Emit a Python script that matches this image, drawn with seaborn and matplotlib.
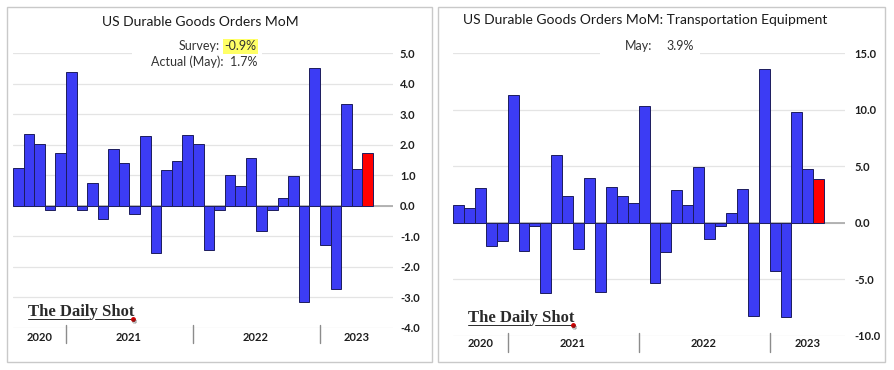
import pandas as pd
import numpy as np
import matplotlib
matplotlib.use("Agg")
import matplotlib.pyplot as plt
import seaborn as sns
from matplotlib.patches import Rectangle
from matplotlib.lines import Line2D
from matplotlib.ticker import FormatStrFormatter

# monthly bars, Aug 2020 .. May 2023
months = [str(p) for p in pd.period_range("2020-08", "2023-05", freq="M")]

durable_mom = [1.25, 2.36, 2.03, -0.14, 1.72, 4.37, -0.14, 0.74, -0.42, 1.87,
               1.40, -0.26, 2.28, -1.54, 1.18, 1.48, 2.33, 2.01, -1.46, -0.15,
               1.00, 0.66, 1.58, -0.82, -0.15, 0.27, 0.96, -3.14, 4.50, -1.28,
               -2.72, 3.32, 1.20, 1.74]

transport_mom = [1.59, 1.35, 3.09, -2.03, -1.59, 11.26, -2.47, -0.29, -6.20, 6.00,
                 2.38, -2.32, 3.97, -6.09, 3.20, 2.38, 1.79, 10.29, -5.32, -2.59,
                 2.88, 1.56, 4.97, -1.44, -0.24, 0.85, 3.00, -8.20, 13.60, -4.24,
                 -8.30, 9.80, 4.76, 3.88]

years = ["2020", "2021", "2022", "2023"]
year_pos = [2.0, 10.45, 22.45, 31.95]
year_breaks = [4.5, 16.5, 28.5]

left_ticks = [-4.0, -3.0, -2.0, -1.0, 0.0, 1.0, 2.0, 3.0, 4.0, 5.0]
right_ticks = [-10.0, -5.0, 0.0, 5.0, 10.0, 15.0]

sns.set_style("white")
plt.rcParams['font.family'] = ['Lato', 'DejaVu Sans']

W, H = 894, 370
BLUE = "#3c3cf4"
RED = "#ff0000"
EDGE = "#1c1c5e"

fig = plt.figure(figsize=(W / 100, H / 100), dpi=100)


def fx(px):
    return px / W


def fy(py):
    return 1 - py / H


def draw_panel(ax, vals, ticks, pad, year_y, sep_lo, sep_hi):
    colors = [BLUE] * (len(vals) - 1) + [RED]
    df = pd.DataFrame({"month": months, "value": vals})
    sns.barplot(data=df, x="month", y="value", hue="month", palette=colors,
                legend=False, width=1.0, edgecolor=EDGE, linewidth=0.7,
                saturation=1, ax=ax, zorder=2)
    ax.set_xlim(-0.5, 35.4)
    ax.set_ylim(ticks[0], ticks[-1])
    ax.set_yticks(ticks)
    ax.yaxis.set_major_formatter(FormatStrFormatter("%.1f"))
    ax.yaxis.tick_right()
    ax.tick_params(axis="y", length=0, pad=pad, labelsize=8, labelcolor="#1e1e1e")
    for lab in ax.get_yticklabels():
        lab.set_fontweight("bold")
    ax.set_xticks([])
    ax.set_xlabel("")
    ax.set_ylabel("")
    ax.grid(axis="y", color="#e4e4e4", linewidth=0.9)
    ax.set_axisbelow(True)
    ax.axhline(0, color="#a8a8a8", linewidth=1.2, zorder=1.5)
    for s in ax.spines.values():
        s.set_visible(False)
    tr = ax.get_xaxis_transform()
    for yr, xp in zip(years, year_pos):
        ax.text(xp, year_y, yr, transform=tr, ha="center", va="center",
                fontsize=8, fontweight="bold", color="#1e1e1e")
    for xb in year_breaks:
        ax.add_line(Line2D([xb, xb], [sep_lo, sep_hi], transform=tr,
                           color="#8c8c8c", linewidth=1.0, clip_on=False))


# left panel
ax1 = fig.add_axes([fx(13), fy(328), fx(380), (328 - 53) / H])
draw_panel(ax1, durable_mom, left_ticks, 5, -0.033, 0.011, -0.055)
ax1.add_patch(Rectangle((0.313, 0.97), 0.342, 0.06, transform=ax1.transAxes,
                        facecolor="white", edgecolor="none", zorder=3, clip_on=False))

# right panel
ax2 = fig.add_axes([fx(453), fy(336), fx(392), (336 - 53) / H])
draw_panel(ax2, transport_mom, right_ticks, 7, -0.028, 0.011, -0.057)
ax2.add_patch(Rectangle((0.375, 0.97), 0.255, 0.06, transform=ax2.transAxes,
                        facecolor="white", edgecolor="none", zorder=3, clip_on=False))

# panel frames
for x0, x1 in [(7, 432), (438, 885)]:
    fig.add_artist(Rectangle((fx(x0), fy(362)), fx(x1 - x0), (362 - 7) / H,
                             transform=fig.transFigure, facecolor="none",
                             edgecolor="#c9c9c9", linewidth=1.0))

# titles and notes
fig.text(fx(200), fy(22), "US Durable Goods Orders MoM", ha="center", va="center",
         fontsize=10, color="#1a1a1a")
fig.text(fx(645), fy(20), "US Durable Goods Orders MoM: Transportation Equipment",
         ha="center", va="center", fontsize=10, color="#1a1a1a")

fig.text(fx(220), fy(46), "Survey:", ha="right", va="center", fontsize=9, color="#333333")
fig.text(fx(224), fy(46), "-0.9%", ha="left", va="center", fontsize=9, color="#333333",
         bbox=dict(boxstyle="square,pad=0.12", facecolor="#ffff66", edgecolor="none"))
fig.text(fx(257), fy(62), "Actual (May):  1.7%", ha="right", va="center",
         fontsize=9, color="#333333")
fig.text(fx(625), fy(46), "May:", ha="left", va="center", fontsize=9, color="#333333")
fig.text(fx(666), fy(46), "3.9%", ha="left", va="center", fontsize=9, color="#333333")


# logos
def logo(x, y):
    fig.text(fx(x), fy(y), "The Daily Shot", ha="left", va="baseline",
             family="Liberation Serif", fontweight="bold", fontsize=12, color="#2a2a2a")
    fig.text(fx(x + 104), fy(y + 8), "\u00ae", ha="left", va="baseline",
             family="Liberation Serif", fontsize=5, color="#2a2a2a")
    fig.add_artist(Line2D([fx(x), fx(x + 61)], [fy(y + 2.5)] * 2, color="#2a2a2a", linewidth=0.7))
    fig.add_artist(Line2D([fx(x + 67), fx(x + 104)], [fy(y + 2.5)] * 2, color="#2a2a2a", linewidth=0.7))
    fig.add_artist(Line2D([fx(x + 105)], [fy(y + 2.5)], marker="o", markersize=2.5,
                          color="#cc0000", linewidth=0))


logo(28, 316)
logo(468, 322)

fig.savefig("out.png", dpi=100)
